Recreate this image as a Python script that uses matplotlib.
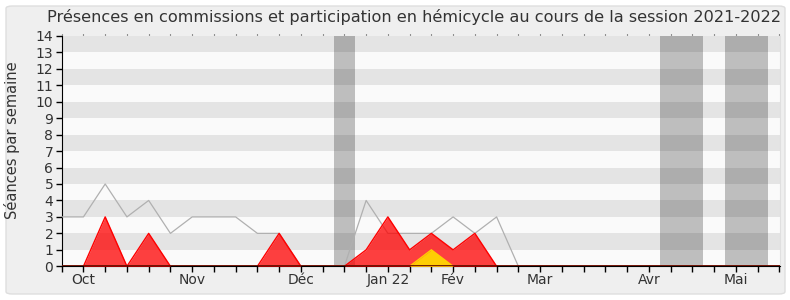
import matplotlib
matplotlib.use("Agg")
import matplotlib.pyplot as plt
from matplotlib.patches import FancyBboxPatch
import numpy as np

title = "Présences en commissions et participation en hémicycle au cours de la session 2021-2022"
ylabel = "Séances par semaine"

weeks = list(range(34))
presence_total = [3, 3, 5, 3, 4, 2, 3, 3, 3, 2, 2, 0, 0, 0, 4, 2, 2, 2, 3, 2, 3,
                  0, 0, 0, 0, 0, 0, 0, 0, 0, 0, 0, 0, 0]
hemicycle = [0, 0, 3, 0, 2, 0, 0, 0, 0, 0, 2, 0, 0, 0, 1, 3, 1, 2, 1, 2, 0,
             0, 0, 0, 0, 0, 0, 0, 0, 0, 0, 0, 0, 0]
interventions = [0, 0, 0, 0, 0, 0, 0, 0, 0, 0, 0, 0, 0, 0, 0, 0, 0, 1, 0, 0, 0,
                 0, 0, 0, 0, 0, 0, 0, 0, 0, 0, 0, 0, 0]
holidays = [(12.5, 13.5), (27.5, 29.5), (30.5, 32.5)]
month_ticks = [1, 6, 11, 15, 18, 22, 27, 31]
month_labels = ["Oct", "Nov", "Déc", "Jan 22", "Fév", "Mar", "Avr", "Mai"]

W, H = 790, 300
fig = plt.figure(figsize=(W / 100, H / 100), dpi=100)
fig.patch.set_facecolor("white")
frame = FancyBboxPatch((6 / W, 6 / H), 779 / W, 288 / H,
                       boxstyle="round,pad=0,rounding_size=0.008",
                       transform=fig.transFigure, facecolor="#efefef",
                       edgecolor="#dedede", linewidth=1, zorder=-10)
fig.patches.append(frame)

x0, x1 = 61.7, 780.0
ybot, ytop = 266.3, 35.8
ax = fig.add_axes([x0 / W, 1 - ybot / H, (x1 - x0) / W, (ybot - ytop) / H])
ax.set_zorder(5)
ax.set_facecolor("#fafafa")
xmax = 33 * (x1 - x0) / (779.3 - x0)
ax.set_xlim(0, xmax)
ax.set_ylim(0, 14)

for a, b in holidays:
    ax.axvspan(a, b, color="#bebebe", zorder=1, linewidth=0)
for k in range(1, 14, 2):
    ax.axhspan(k, k + 1, color="black", alpha=0.085, zorder=1.5, linewidth=0)

ax.plot(weeks, presence_total, color="#b0b0b0", linewidth=0.9, zorder=3)
ax.fill_between(weeks, hemicycle, 0, color="#ff0000", alpha=0.75, linewidth=0, zorder=4)
ax.plot(weeks, hemicycle, color="#ff0000", linewidth=1, zorder=4.5)
ax.fill_between(weeks, interventions, 0, color="#ffd700", alpha=0.95, linewidth=0, zorder=5)
ax.plot(weeks, interventions, color="#ffd000", linewidth=1, zorder=5.5)
ax.axhline(0, color="#5a0000", linewidth=1.2, zorder=6)

ax.spines["top"].set_visible(False)
ax.spines["right"].set_color("#e0e0e0")
ax.spines["left"].set_color("black")
ax.spines["bottom"].set_color("black")

ax.set_yticks(range(15))
ax.set_yticklabels([str(i) for i in range(15)], fontsize=10, color="#333333")
ax.xaxis.remove_overlapping_locs = False
ax.set_xticks(weeks)
ax.set_xticklabels([])
ax.set_xticks(month_ticks, minor=True)
ax.set_xticklabels(month_labels, minor=True, fontsize=10, color="#333333")
ax.tick_params(axis="x", which="major", length=4, width=1, color="black",
               top=False, direction="out")
ax.tick_params(axis="x", which="minor", length=0, pad=5)
ax.tick_params(axis="y", length=4, width=1, pad=2, color="black")

# small tick dots along the top edge
for w in weeks:
    ax.plot([w, w], [14.02, 14.12], color="#333333", linewidth=0.8,
            clip_on=False, zorder=7, solid_capstyle="butt")

fig.text(12.5 / W, 1 - 140.5 / H, ylabel, rotation=90, ha="center", va="center",
         fontsize=10.5, color="#333333")
fig.text(414 / W, 1 - 17 / H, title, ha="center", va="center",
         fontsize=11.6, color="#333333")

fig.savefig("out.png", dpi=100, facecolor=fig.get_facecolor())
